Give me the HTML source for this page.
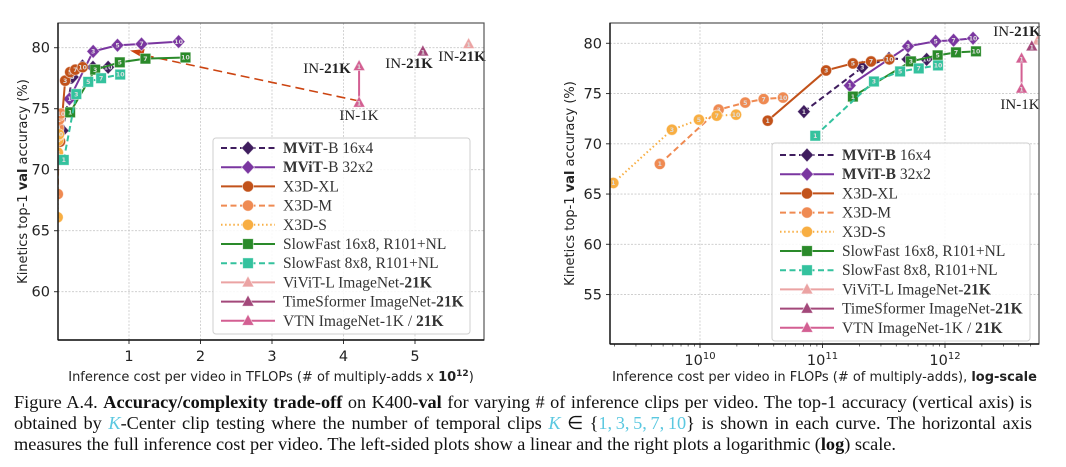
<!DOCTYPE html>
<html><head><meta charset="utf-8">
<style>
body{margin:0;background:#fff;width:1066px;height:467px;overflow:hidden;}
svg{position:absolute;left:0;top:0;}
.cap{position:absolute;left:14px;top:392px;width:1018px;font-family:"Liberation Serif",serif;font-size:18.3px;line-height:21.2px;color:#111;}
.cap div{text-align:justify;text-align-last:justify;white-space:nowrap;}
.cap div.last{text-align-last:left;}
.k{color:#5bc8e0;font-style:italic;}
.kc{color:#5bc8e0;}
</style></head><body>
<svg id="chart" width="1066" height="467" xmlns="http://www.w3.org/2000/svg"></svg>
<div class="cap">
<div>Figure A.4. <b>Accuracy/complexity trade-off</b> on K400-<b>val</b> for varying # of inference clips per video. The top-1 accuracy (vertical axis) is</div>
<div>obtained by <span class="k">K</span>-Center clip testing where the number of temporal clips <span class="k">K</span> ∈ {<span class="kc">1,&#8201;3,&#8201;5,&#8201;7,&#8201;10</span>} is shown in each curve. The horizontal axis</div>
<div class="last">measures the full inference cost per video. The left-sided plots show a linear and the right plots a logarithmic (<b>log</b>) scale.</div>
</div>
<script>
// ---- data (GFLOPs, top-1 accuracy) ----
const clips = [1,3,5,7,10];
const x3dS_g = [1.96,5.9,9.8,13.7,19.7];
const x3dS_a = [66.1,71.4,72.4,72.8,72.9];
const x3dM_g = [4.7,14.2,23.4,33.1,47.6];
const x3dM_a = [68.0,73.4,74.1,74.45,74.6];
const x3dXL_g = [35.7,107,177,249,351];
const x3dXL_a = [72.3,77.3,78.0,78.2,78.4];
const mvit16_g = [70.5,211,349,496,708];
const mvit16_a = [73.2,77.6,78.5,78.4,78.4];
const mvit32_g = [167,499,839,1175,1694];
const mvit32_a = [75.8,79.7,80.2,80.3,80.5];
const sf16_g = [177,527,871,1230,1790];
const sf16_a = [74.7,78.2,78.8,79.1,79.2];
const sf8_g = [87.3,263,430,610,877];
const sf8_a = [70.8,76.2,77.2,77.5,77.8];
const vivit_g = [5750];
const vivit_a = [80.3];
const timesf_g = [5110];
const timesf_a = [79.7];
const vtn_g = [4218,4218];
const vtn_a = [75.5,78.5];
const vtn_clips = [1,1];
const leftXTicks = [1,2,3,4,5];
const leftYTicks = [60,65,70,75,80];
const rightXTicks = [10,11,12];
const rightYTicks = [55,60,65,70,75,80];

const NS="http://www.w3.org/2000/svg";
const svg=document.getElementById('chart');
function mk(tag,attrs,parent){const e=document.createElementNS(NS,tag);for(const k in attrs)e.setAttribute(k,attrs[k]);(parent||svg).appendChild(e);return e;}

const series=[
 {name:'mvit-b-16x4',g:mvit16_g,a:mvit16_a,c:clips,col:'#3f1d5e',dash:'6,3.5',m:'d',label:[['MViT',1],['-B 16x4',0]],labelR:[['MViT-B',1],[' 16x4',0]]},
 {name:'mvit-b-32x2',g:mvit32_g,a:mvit32_a,c:clips,col:'#7a36a0',dash:'',m:'d',label:[['MViT',1],['-B 32x2',0]],labelR:[['MViT-B',1],[' 32x2',0]]},
 {name:'x3d-xl',g:x3dXL_g,a:x3dXL_a,c:clips,col:'#c2521a',dash:'',m:'o',label:[['X3D-XL',0]]},
 {name:'x3d-m',g:x3dM_g,a:x3dM_a,c:clips,col:'#ef8a52',dash:'6,3.5',m:'o',label:[['X3D-M',0]]},
 {name:'x3d-s',g:x3dS_g,a:x3dS_a,c:clips,col:'#f8ae42',dash:'1.5,2.6',m:'o',label:[['X3D-S',0]]},
 {name:'slowfast-16x8',g:sf16_g,a:sf16_a,c:clips,col:'#2a8a2a',dash:'',m:'s',label:[['SlowFast 16x8, R101+NL',0]]},
 {name:'slowfast-8x8',g:sf8_g,a:sf8_a,c:clips,col:'#34c29e',dash:'6,3.5',m:'s',label:[['SlowFast 8x8, R101+NL',0]]},
 {name:'vivit-l',g:vivit_g,a:vivit_a,c:[1],col:'#eba3a3',dash:'',m:'t',label:[['ViViT-L ImageNet-',0],['21K',1]]},
 {name:'timesformer',g:timesf_g,a:timesf_a,c:[1],col:'#a3487a',dash:'',m:'t',label:[['TimeSformer ImageNet-',0],['21K',1]]},
 {name:'vtn',g:vtn_g,a:vtn_a,c:vtn_clips,col:'#d35f92',dash:'',m:'t',label:[['VTN ImageNet-1K / ',0],['21K',1]]},
];

function marker(g,type,x,y,col,num,name){
  let e;
  if(type==='d'){e=mk('polygon',{points:`${x},${y-7} ${x+6.5},${y} ${x},${y+7} ${x-6.5},${y}`},g);}
  else if(type==='o'){e=mk('circle',{cx:x,cy:y,r:5.6},g);}
  else if(type==='s'){e=mk('rect',{x:x-5.3,y:y-5.3,width:10.6,height:10.6},g);}
  else {e=mk('polygon',{points:`${x},${y-6.5} ${x+6},${y+4.5} ${x-6},${y+4.5}`},g);}
  e.setAttribute('fill',col);e.setAttribute('stroke','rgba(255,255,255,0.6)');e.setAttribute('stroke-width','0.8');
  
  
  if(num!==null){const t=mk('text',{x:x,y:y+(type==='t'?3:2.2),'text-anchor':'middle','font-family':'DejaVu Sans,sans-serif','font-size':'6.2','font-weight':'bold',fill:'#ddd'},g);t.textContent=num;}
}

function drawPlot(o){
  const P=mk('g',{});
  
  
  const clipId=o.id+'-clip';
  const cp=mk('clipPath',{id:clipId},P);mk('rect',{x:o.L,y:o.T,width:o.R-o.L,height:o.B-o.T},cp);
  o.xt.forEach(v=>{const x=o.sx(v);const l=mk('line',{x1:x,x2:x,y1:o.T,y2:o.B,stroke:'#c8c8c8','stroke-width':0.8,'stroke-dasharray':'2,1.5'},P);});
  o.yt.forEach(v=>{const y=o.sy(v);const l=mk('line',{x1:o.L,x2:o.R,y1:y,y2:y,stroke:'#c8c8c8','stroke-width':0.8,'stroke-dasharray':'2,1.5'},P);});
  o.yt.forEach(v=>{const y=o.sy(v);mk('line',{x1:o.L-4,x2:o.L,y1:y,y2:y,stroke:'#333'},P);const t=mk('text',{x:o.L-8,y:y+5,'text-anchor':'end','font-family':'DejaVu Sans,sans-serif','font-size':'14.5',fill:'#222'},P);t.textContent=v;});
  o.xt.forEach(v=>{const x=o.sx(v);mk('line',{x1:x,x2:x,y1:o.B,y2:o.B+4,stroke:'#333'},P);
    const t=mk('text',{x:x,y:o.B+21,'text-anchor':'middle','font-family':'DejaVu Sans,sans-serif','font-size':'14.5',fill:'#222'},P);
    if(o.log){t.textContent='10';const s=mk('tspan',{dy:-6,'font-size':'10'},t);s.textContent=v;}else t.textContent=v;
    });
  if(o.log){for(let d=9;d<=12;d++)for(let k=2;k<=9;k++){const lv=d+Math.log10(k);const x=o.sx(lv);if(x>o.L&&x<o.R)mk('line',{x1:x,x2:x,y1:o.B,y2:o.B+2.5,stroke:'#333','stroke-width':0.7},P);}}
  const yt=mk('text',{transform:`translate(${o.ytx},${(o.T+o.B)/2}) rotate(-90)`,'text-anchor':'middle','font-family':'DejaVu Sans,sans-serif','font-size':'13',fill:'#222'},P);
  yt.innerHTML='Kinetics top-1 <tspan font-weight="bold">val</tspan> accuracy (%)';
  
  const xt=mk('text',{x:(o.L+o.R)/2,y:381,'text-anchor':'middle','font-family':'DejaVu Sans,sans-serif','font-size':'13',fill:'#222'},P);
  xt.innerHTML=o.xtitle;
  const D=mk('g',{'clip-path':`url(#${clipId})`},P);
  if(o.arrow){const a=o.arrow;const l=mk('line',{x1:a[0],y1:a[1],x2:a[2]+9,y2:a[3]+3.5,stroke:'#cc4411','stroke-width':1.6,'stroke-dasharray':'9,5'},D);
    const ang=Math.atan2(a[1]-a[3],a[0]-a[2]);const L=14,W=4.5;const bx=a[2]+L*Math.cos(ang),by=a[3]+L*Math.sin(ang);
    mk('polygon',{points:`${a[2]},${a[3]} ${bx-W*Math.sin(ang)},${by+W*Math.cos(ang)} ${bx+W*Math.sin(ang)},${by-W*Math.cos(ang)}`,fill:'#cc4411'},D);}
  series.forEach(s=>{
    const g=mk('g',{},D);
    const pts=s.g.map((v,i)=>[o.sx(o.tx(v*1e9)),o.sy(s.a[i])]);
    if(pts.length>1){const pl=mk('polyline',{points:pts.map(p=>p.join(',')).join(' '),fill:'none',stroke:s.col,'stroke-width':2,'stroke-dasharray':s.dash},g);}
    pts.forEach((p,i)=>marker(g,s.m,p[0],p[1],s.col,s.c[i],s.name+'-point'));
  });
  o.notes.forEach(n=>{const t=mk('text',{x:n[0],y:n[1],'text-anchor':'middle','font-family':'Liberation Serif,serif','font-size':'15',fill:'#222'},P);
    if(n[2])t.innerHTML='IN-<tspan font-weight="bold">21K</tspan>';else t.textContent='IN-1K';
    });
  mk('rect',{x:o.L,y:o.T,width:o.R-o.L,height:o.B-o.T,fill:'none',stroke:'#555','stroke-width':1.2},P);
  mk('line',{x1:o.L,x2:o.L,y1:o.T,y2:o.B,stroke:'#111','stroke-width':1.4},P);
  mk('line',{x1:o.L,x2:o.R,y1:o.B,y2:o.B,stroke:'#111','stroke-width':1.4},P);
  const lg=mk('g',{},P);
  const lb=o.leg;mk('rect',{x:lb.x,y:lb.y,width:lb.w,height:lb.h,rx:3,fill:'rgba(255,255,255,0.85)',stroke:'#cfcfcf'},lg);
  series.forEach((s,i)=>{const y=lb.r0+i*19.2;
    const e=mk('g',{},lg);
    mk('line',{x1:lb.x+8,x2:lb.x+62,y1:y,y2:y,stroke:s.col,'stroke-width':2,'stroke-dasharray':s.dash},e);
    marker(e,s.m,lb.x+35,y,s.col,null,'legend-marker');
    const t=mk('text',{x:lb.x+70,y:y+5,'font-family':'Liberation Serif,serif','font-size':'15.5',fill:'#333'},e);
    (o.log&&s.labelR?s.labelR:s.label).forEach(p=>{const sp=mk('tspan',p[1]?{'font-weight':'bold'}:{},t);sp.textContent=p[0];});
  });
}

drawPlot({id:'linear-plot',L:58,R:484,T:23,B:340,log:false,
  tx:f=>f/1e12, sx:v=>57.5+71.5*v, sy:a=>47.7+(80-a)*12.2,
  xt:leftXTicks, yt:leftYTicks, ytx:27,
  xtitle:'Inference cost per video in TFLOPs (# of multiply-adds x <tspan font-weight="bold">10<tspan dy="-5" font-size="9">12</tspan></tspan><tspan dy="5">)</tspan>',
  arrow:[359,101,130,50.5],
  notes:[[327,73,1],[359,120,0],[409,68,1],[462,61,1]],
  leg:{x:213,y:138,w:257,h:196,r0:148}});
drawPlot({id:'log-plot',L:610,R:1039,T:23,B:344,log:true,
  tx:f=>Math.log10(f), sx:v=>700+122.5*(v-10), sy:a=>43.3+(80-a)*10.05,
  xt:rightXTicks, yt:rightYTicks, ytx:574,
  xtitle:'Inference cost per video in FLOPs (# of multiply-adds), <tspan font-weight="bold">log-scale</tspan>',
  arrow:null,
  notes:[[1017,36,1],[1020,109,0]],
  leg:{x:772,y:143,w:258,h:198,r0:155}});
</script>
</body></html>
